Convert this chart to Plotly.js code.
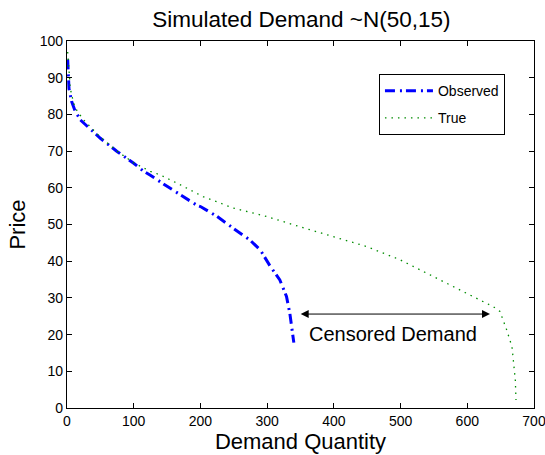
<!DOCTYPE html>
<html>
<head>
<meta charset="utf-8">
<script src="https://cdn.plot.ly/plotly-3.0.1.min.js"></script>
<style>html,body{margin:0;padding:0;background:#fff;}#chart{width:545px;height:455px;}</style>
</head>
<body>
<div id="chart"></div>
<script>
var qObserved = [1, 2, 3, 7, 12, 20, 35, 50, 75, 100, 115, 125, 150, 175, 195, 200, 225, 249, 274, 290, 304, 319, 329, 334, 338, 340];
var pObserved = [95, 92, 87, 83.5, 81, 78.5, 76, 73.5, 69.9, 66.7, 64.5, 63.4, 60.4, 57.6, 55.2, 54.9, 52.2, 49, 45.8, 43, 38.8, 34.9, 30.4, 25.8, 21.3, 17.8];
var qTrue = [1, 2, 5, 10, 15, 25, 50, 75, 100, 125, 140, 170, 195, 204, 249, 299, 349, 399, 449, 499, 549, 599, 625, 639, 649, 659, 667, 670, 672, 673];
var pTrue = [97, 94, 87, 83, 81, 78.5, 73.8, 70, 66.8, 64.5, 63.5, 60.8, 58.5, 57.6, 54.5, 52.2, 49.4, 46.7, 44, 40.4, 35.8, 31.3, 29, 27.6, 26.3, 21.3, 16.7, 12, 7.6, 2.2];
var xTicks = [0, 100, 200, 300, 400, 500, 600, 700];
var yTicks = [0, 10, 20, 30, 40, 50, 60, 70, 80, 90, 100];
var arrowStart = [348, 25.6];
var arrowEnd = [634, 25.6];
var censorLabel = "Censored Demand";
var censorLabelPos = [488, 20.2];

var FONT = "Liberation Sans, Arial, Helvetica, sans-serif";

var traces = [
  {x: qObserved, y: pObserved, mode: "lines", name: "Observed", legendgroup: "a",
   line: {color: "rgb(0,0,255)", width: 3, dash: "10px,5px,2px,4px"}},
  {x: qTrue, y: pTrue, mode: "lines", name: "True", legendgroup: "b",
   line: {color: "rgb(0,140,0)", width: 1.3, dash: "1.5px,5px"}}
];

var axisCommon = {
  showline: true, mirror: "allticks", linecolor: "#000", linewidth: 1.2,
  ticks: "inside", ticklen: 5, tickwidth: 1, tickcolor: "#000",
  showgrid: false, zeroline: false, ticklabeloverflow: "allow",
  tickfont: {family: FONT, size: 14, color: "#000"}
};

var layout = {
  width: 545, height: 455,
  margin: {l: 67, r: 11, t: 41, b: 47},
  paper_bgcolor: "#fff", plot_bgcolor: "#fff",
  font: {family: FONT, color: "#000"},
  title: {text: "Simulated Demand ~N(50,15)", font: {family: FONT, size: 22.5, color: "#000"},
          x: 0.553, xanchor: "center", y: 0.958, yanchor: "middle"},
  xaxis: Object.assign({}, axisCommon, {
    range: [0, 700], tickvals: xTicks, ticktext: xTicks.map(String),
    title: {text: "Demand Quantity", font: {family: FONT, size: 22, color: "#000"}, standoff: 2}
  }),
  yaxis: Object.assign({}, axisCommon, {
    range: [0, 100], tickvals: yTicks, ticktext: yTicks.map(String),
    title: {text: "Price", font: {family: FONT, size: 22, color: "#000"}, standoff: 8}
  }),
  showlegend: true,
  legend: {
    x: 0.668, y: 0.91, xanchor: "left", yanchor: "top",
    bgcolor: "#fff", bordercolor: "#000", borderwidth: 1,
    font: {family: FONT, size: 14, color: "#000"},
    tracegroupgap: 6, itemwidth: 48
  },
  annotations: [
    {x: arrowEnd[0], y: arrowEnd[1], ax: arrowStart[0], ay: arrowStart[1],
     xref: "x", yref: "y", axref: "x", ayref: "y", text: "",
     showarrow: true, arrowhead: 2, startarrowhead: 2, arrowside: "end+start",
     arrowsize: 1.6, startarrowsize: 1.6, arrowwidth: 1, arrowcolor: "#000"},
    {x: censorLabelPos[0], y: censorLabelPos[1], xref: "x", yref: "y",
     text: censorLabel, showarrow: false,
     font: {family: FONT, size: 20, color: "#000"}}
  ]
};

Plotly.newPlot("chart", traces, layout, {displayModeBar: false, staticPlot: true});
</script>
</body>
</html>
